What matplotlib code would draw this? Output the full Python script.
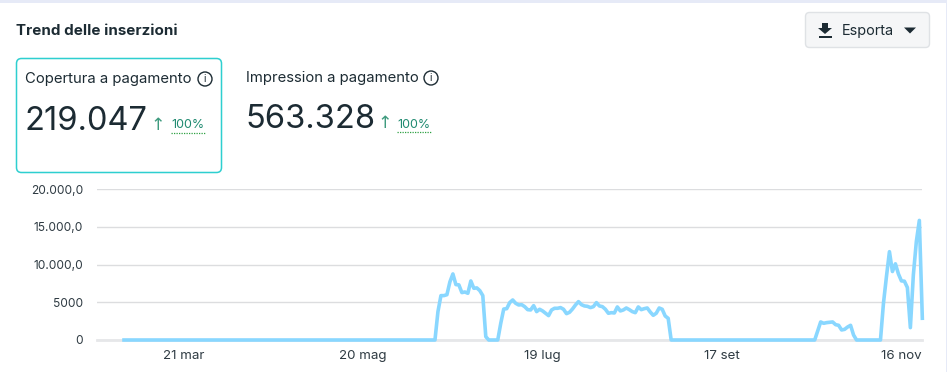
"""Trend delle inserzioni card: paid reach daily line plus the header widgets."""

import matplotlib
matplotlib.use("Agg")
import matplotlib.pyplot as plt
from matplotlib.patches import Circle, FancyBboxPatch, Polygon, Rectangle

W, H = 947, 372
FONT = "Inter"
DARK = "#1c2b33"

# daily values, first day is 1 March
reach_zero_start = [0] * 105
reach_summer = [3757, 5880, 5880, 6000, 7700, 8750, 7340, 7300, 6280, 6360, 6190, 7820,
                6850, 6900, 6540, 5880, 440, 0, 0, 0, 0, 2200, 4100, 4150, 4950, 5300,
                4860, 4640, 4680, 4420, 4020, 3980, 4550, 3760, 4070, 3850, 3540, 3230,
                3980, 4200, 4200, 4290, 4070, 3490, 3670, 4110, 4640, 5080, 4680, 4510,
                4460, 4290, 4420, 4950, 4510, 4420, 4070, 3540, 3620, 3580, 4380, 3850,
                3980, 4240, 4020, 3760, 3620, 4380, 4020, 4150, 4240, 3710, 3270, 3540,
                4240, 4070, 3180, 2870]
reach_zero_mid = [0] * 49
reach_autumn = [1190, 2390, 2210, 2300, 2340, 2390, 2030, 1945, 1330, 1410, 1720, 1945, 660]
reach_zero_late = [0] * 9
reach_end = [4860, 8400, 11700, 9070, 10090, 8760, 7830, 7790, 6950, 1640, 8630, 13050, 15840, 2880]
reach = reach_zero_start + reach_summer + reach_zero_mid + reach_autumn + reach_zero_late + reach_end

y_ticks = [0, 5000, 10000, 15000, 20000]
y_labels = ["0", "5000", "10.000,0", "15.000,0", "20.000,0"]
x_ticks = [20, 80, 140, 200, 260]
x_labels = ["21 mar", "20 mag", "19 lug", "17 set", "16 nov"]

fig = plt.figure(figsize=(W / 100, H / 100), dpi=100, facecolor="#e6eaf7")

# overlay in pixel coordinates for the card and its header
bg = fig.add_axes([0, 0, 1, 1])
bg.set_xlim(0, W)
bg.set_ylim(H, 0)
bg.axis("off")
bg.add_patch(Rectangle((0, 2.5), W - 1, H, fc="white", ec="none"))

bg.text(16, 31, "Trend delle inserzioni", fontsize=10.9, fontweight="bold", color=DARK,
        family=FONT, va="center")

# selected metric box
bg.add_patch(FancyBboxPatch((16.5, 58.5), 205, 114, boxstyle="round,pad=0,rounding_size=5",
                            fc="white", ec="#2ecfd0", lw=1.1))


def metric(x_label, y_label, label, x_icon, x_value, y_value, value, x_arrow, x_pct, y_pct):
    bg.text(x_label, y_label, label, fontsize=10.7, color=DARK, family=FONT, va="center")
    bg.add_patch(Circle((x_icon, y_label), 7, fc="white", ec=DARK, lw=1))
    bg.text(x_icon, y_label, "i", fontsize=7.5, color=DARK, family=FONT, ha="center", va="center")
    bg.text(x_value, y_value, value, fontsize=23.5, color=DARK, family=FONT, va="center")
    bg.text(x_arrow, y_pct - 1, "↑", fontsize=12.5, color="#3f9b7f", family="DejaVu Sans",
            ha="center", va="center")
    bg.text(x_pct, y_pct, "100%", fontsize=9, color="#1f8a70", family=FONT, va="center")
    bg.plot([x_pct, x_pct + 35], [y_pct + 7, y_pct + 7], color="#2ea043", lw=0.9, ls=(0, (1, 1)))


metric(25, 79, "Copertura a pagamento", 205, 24.5, 121, "219.047", 158, 171, 125.5)
metric(246, 78, "Impression a pagamento", 431, 245.5, 120, "563.328", 385, 397, 124.5)

# export button
bg.add_patch(FancyBboxPatch((805.5, 12.5), 124, 35, boxstyle="round,pad=0,rounding_size=4",
                            fc="#f5f6f7", ec="#dfe2e5", lw=1))
bg.add_patch(Polygon([[822, 23], [828, 23], [828, 28], [832, 28], [825, 34], [818, 28], [822, 28]],
                     fc=DARK, ec="none"))
bg.add_patch(Rectangle((818.5, 36), 13, 2, fc=DARK, ec="none"))
bg.text(842, 30.5, "Esporta", fontsize=10.4, color=DARK, family=FONT, va="center")
bg.add_patch(Polygon([[904, 27.5], [916, 27.5], [910, 33.5]], fc=DARK, ec="none"))

# plot area, placed so day 0 is at x=124 and 0..20000 spans y=340..189
left, right = 97, 922
top, bottom = 189, 340
px_per_day = 2.99
ax = fig.add_axes([left / W, 1 - bottom / H, (right - left) / W, (bottom - top) / H])
ax.patch.set_alpha(0)
ax.set_xlim((left - 124) / px_per_day, (right - 124) / px_per_day)
ax.set_ylim(0, 20000)
for side in ax.spines.values():
    side.set_visible(False)
ax.set_yticks(y_ticks, y_labels)
ax.set_xticks(x_ticks, x_labels)
ax.tick_params(length=0, labelcolor="#2f3b43")
ax.tick_params(axis="y", pad=10, labelsize=8.6)
ax.tick_params(axis="x", pad=7, labelsize=9.6)
for lab in ax.get_xticklabels() + ax.get_yticklabels():
    lab.set_family(FONT)
ax.grid(axis="y", color="#dcdddf", lw=1)
ax.axhline(0, color="#e6e7e9", lw=2, clip_on=False)
ax.set_axisbelow(True)
ax.plot(range(len(reach)), reach, color="#89d7ff", lw=2.6, clip_on=False, solid_joinstyle="round")

fig.savefig("out.png", dpi=100, facecolor=fig.get_facecolor())
